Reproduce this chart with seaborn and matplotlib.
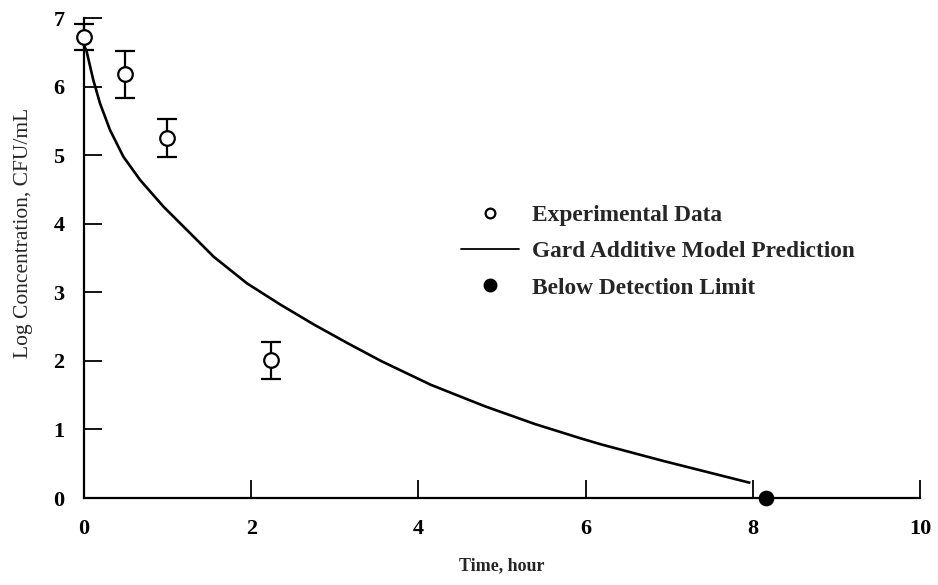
import numpy as np
import pandas as pd
import matplotlib
matplotlib.use("Agg")
import matplotlib.pyplot as plt
import seaborn as sns
from matplotlib.lines import Line2D

# Experimental data
exp_time = [0.0, 0.49, 0.99, 2.23]
exp_logc = [6.73, 6.18, 5.25, 2.01]
exp_err = [0.19, 0.34, 0.28, 0.27]

# Gard additive model prediction
model_time = [0.0, 0.03, 0.11, 0.19, 0.31, 0.47, 0.67, 0.95, 1.23, 1.55, 1.95, 2.35,
              2.75, 3.15, 3.55, 4.15, 4.79, 5.39, 5.94, 6.19, 6.93, 7.97]
model_logc = [6.60, 6.52, 6.10, 5.76, 5.37, 4.98, 4.64, 4.25, 3.91, 3.52, 3.13, 2.82,
              2.53, 2.26, 2.00, 1.65, 1.34, 1.08, 0.87, 0.78, 0.54, 0.22]

# Below detection limit
bdl_time = [8.16]
bdl_logc = [0.0]

x_ticks = [0, 2, 4, 6, 8, 10]
y_ticks = [0, 1, 2, 3, 4, 5, 6, 7]
legend_labels = ["Experimental Data", "Gard Additive Model Prediction", "Below Detection Limit"]

sns.set_theme(style="ticks")
plt.rcParams['font.family'] = ['Liberation Serif', 'DejaVu Serif']

fig = plt.figure(figsize=(9.38, 5.85), dpi=100)
ax = fig.add_axes([0.0896, 0.1487, 0.8914, 0.8203])

df_model = pd.DataFrame({"t": model_time, "c": model_logc})
sns.lineplot(data=df_model, x="t", y="c", ax=ax, color="black", linewidth=1.9,
             solid_joinstyle="round", solid_capstyle="butt")

ax.errorbar(exp_time, exp_logc, yerr=exp_err, fmt="none", ecolor="black",
            elinewidth=1.6, capsize=7, capthick=1.6, zorder=3, clip_on=False)
df_exp = pd.DataFrame({"t": exp_time, "c": exp_logc})
sns.scatterplot(data=df_exp, x="t", y="c", ax=ax, marker="o", s=110,
                facecolor="white", edgecolor="black", linewidth=1.6, zorder=4,
                clip_on=False)
df_bdl = pd.DataFrame({"t": bdl_time, "c": bdl_logc})
sns.scatterplot(data=df_bdl, x="t", y="c", ax=ax, marker="o", s=110,
                color="black", edgecolor="black", zorder=5, clip_on=False)

ax.set_xlim(0, 10)
ax.set_ylim(0, 7)
ax.set_xticks(x_ticks)
ax.set_yticks(y_ticks)
ax.set_xticklabels([str(v) for v in x_ticks], fontsize=16, fontweight="bold")
ax.set_yticklabels([str(v) for v in y_ticks], fontsize=16, fontweight="bold")
ax.tick_params(direction="in", length=13, width=1.3, colors="black", pad=14)
ax.tick_params(axis="x", pad=15)
for s in ["top", "right"]:
    ax.spines[s].set_visible(False)
for s in ["left", "bottom"]:
    ax.spines[s].set_color("black")
    ax.spines[s].set_linewidth(1.6)

ax.set_xlabel("Time, hour", fontsize=13, fontweight="bold", labelpad=13)
ax.set_ylabel("Log Concentration, CFU/mL", fontsize=15.5)
ax.yaxis.set_label_coords(-0.061, 0.552)

handles = [
    Line2D([], [], marker="o", linestyle="none", markerfacecolor="white",
           markeredgecolor="black", markersize=7, markeredgewidth=1.6),
    Line2D([], [], color="black", linewidth=1.3),
    Line2D([], [], marker="o", linestyle="none", color="black", markersize=9),
]
ax.legend(handles, legend_labels, loc="upper left", bbox_to_anchor=(0.428, 0.65),
          frameon=False, prop={"size": 16.8, "weight": "bold"}, handlelength=2.5,
          handletextpad=0.55, labelspacing=0.64, borderpad=0.3)

fig.savefig("out.png", dpi=100)
